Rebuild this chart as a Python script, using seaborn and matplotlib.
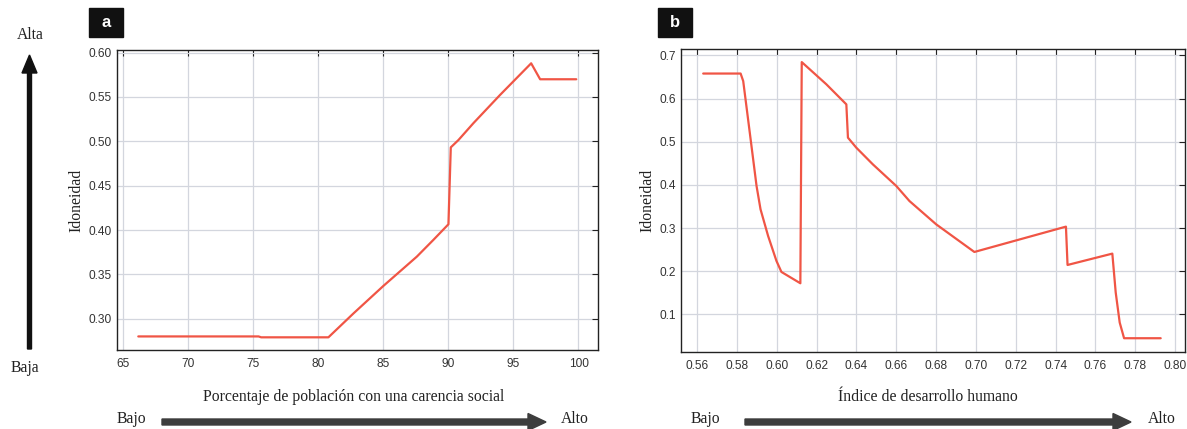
import numpy as np
import pandas as pd
import matplotlib
matplotlib.use("Agg")
import matplotlib.pyplot as plt
import seaborn as sns
from matplotlib.patches import FancyArrow, Rectangle

# Panel a: porcentaje de poblacion con una carencia social
carencia_x = [66.15, 75.4, 75.6, 80.77, 82.7, 85.0, 87.57, 88.85, 90.0,
              90.18, 90.77, 91.92, 93.98, 96.36, 97.05, 99.83]
carencia_y = [0.280, 0.280, 0.279, 0.279, 0.306, 0.337, 0.370, 0.389, 0.4065,
              0.4932, 0.5015, 0.5205, 0.5525, 0.588, 0.570, 0.570]

# Panel b: indice de desarrollo humano
idh_x = [0.563, 0.5818, 0.5831, 0.5864, 0.5898, 0.5918, 0.5956, 0.5998, 0.6023,
         0.6118, 0.6125, 0.6249, 0.6349, 0.6357, 0.6399, 0.6482, 0.6600, 0.6666,
         0.6800, 0.6992, 0.7452, 0.7460, 0.7685, 0.7702, 0.7722, 0.7744, 0.7928]
idh_y = [0.658, 0.658, 0.6405, 0.521, 0.3975, 0.3435, 0.2818, 0.2239, 0.1984,
         0.1722, 0.6845, 0.6329, 0.5866, 0.5095, 0.4863, 0.4477, 0.3975, 0.3627,
         0.3088, 0.2447, 0.3034, 0.2146, 0.2409, 0.1507, 0.0813, 0.0449, 0.0449]

xticks_a = [65, 70, 75, 80, 85, 90, 95, 100]
yticks_a = [0.30, 0.35, 0.40, 0.45, 0.50, 0.55, 0.60]
xticks_b = [0.56, 0.58, 0.60, 0.62, 0.64, 0.66, 0.68, 0.70, 0.72, 0.74, 0.76, 0.78, 0.80]
yticks_b = [0.1, 0.2, 0.3, 0.4, 0.5, 0.6, 0.7]

LINE = "#f05545"
GRID = "#d3d6de"
SERIF = ["Liberation Serif", "DejaVu Serif"]
FS = 11.3

sns.set_theme(style="white")
plt.rcParams["font.family"] = ["Liberation Sans", "DejaVu Sans"]

W, H = 1187, 429
fig = plt.figure(figsize=(W / 100, H / 100), dpi=100)


def px_axes(left, top, right, bottom):
    return fig.add_axes([left / W, 1 - bottom / H, (right - left) / W, (bottom - top) / H])


def style_axes(ax, xticks, yticks, xfmt, yfmt):
    ax.set_xticks(xticks)
    ax.set_yticks(yticks)
    ax.set_xticklabels([xfmt.format(v) for v in xticks])
    ax.set_yticklabels([yfmt.format(v) for v in yticks])
    ax.grid(True, color=GRID, linewidth=0.9)
    ax.tick_params(direction="in", length=4, width=0.8, top=True, right=True,
                   labelsize=8.6, colors="#222222", labelcolor="#333333")
    ax.tick_params(axis="x", pad=6)
    ax.tick_params(axis="y", pad=3.5)
    for s in ax.spines.values():
        s.set_color("#222222")
        s.set_linewidth(1.0)
    ax.set_xlabel("")
    ax.set_ylabel("Idoneidad", family=SERIF, fontsize=FS, color="#222222", labelpad=3)


# panel a
ax1 = px_axes(116.7, 50, 598, 350)
df_a = pd.DataFrame({"x": carencia_x, "y": carencia_y})
sns.lineplot(data=df_a, x="x", y="y", ax=ax1, color=LINE, linewidth=1.6,
             sort=False, estimator=None)
ax1.set_xlim(64.49, 101.5)
ax1.set_ylim(0.2647, 0.603)
style_axes(ax1, xticks_a, yticks_a, "{:g}", "{:.2f}")

# panel b
ax2 = px_axes(680.5, 48.5, 1185, 351.7)
df_b = pd.DataFrame({"x": idh_x, "y": idh_y})
sns.lineplot(data=df_b, x="x", y="y", ax=ax2, color=LINE, linewidth=1.6,
             sort=False, estimator=None)
ax2.set_xlim(0.5516, 0.805)
ax2.set_ylim(0.0137, 0.716)
style_axes(ax2, xticks_b, yticks_b, "{:.2f}", "{:g}")

# overlay in pixel coordinates for annotations
ov = fig.add_axes([0, 0, 1, 1], zorder=-1)
ov.set_xlim(0, W)
ov.set_ylim(H, 0)
ov.axis("off")

txt = dict(family=SERIF, fontsize=FS, color="#222222", ha="center", va="center")

# panel tags
for x0, lab in [(89, "a"), (658, "b")]:
    ov.add_patch(Rectangle((x0, 8), 34, 29, color="#111111"))
    ov.text(x0 + 17, 22.5, lab, color="white", fontsize=12, fontweight="bold",
            ha="center", va="center", family=["Liberation Sans", "DejaVu Sans"])

# vertical arrow (Alta / Baja)
ov.text(30, 35, "Alta", **txt)
ov.text(25, 368, "Baja", **txt)
ov.add_patch(FancyArrow(29.5, 349, 0, -294, width=4, head_width=15, head_length=18,
                        length_includes_head=True, color="#111111"))

# x labels and horizontal arrows
ov.text(354, 397, "Porcentaje de población con una carencia social", **txt)
ov.text(928, 397, "Índice de desarrollo humano", **txt)
for x_bajo, x0, x1, x_alto in [(131, 162, 546, 575), (705, 745, 1131, 1162)]:
    ov.text(x_bajo, 419, "Bajo", **txt)
    ov.text(x_alto, 419, "Alto", **txt)
    ov.add_patch(FancyArrow(x0, 422, x1 - x0, 0, width=6, head_width=17, head_length=18,
                            length_includes_head=True, color="#3d3d3d"))

fig.savefig("out.png", dpi=100)
